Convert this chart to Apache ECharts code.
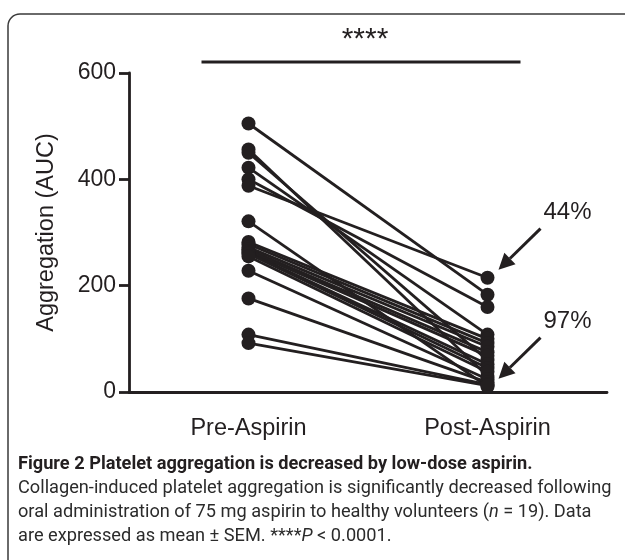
<!DOCTYPE html>
<html><head><meta charset="utf-8">
<script src="https://cdn.jsdelivr.net/npm/echarts@6/dist/echarts.min.js"></script>
<style>html,body{margin:0;padding:0;background:#fff}#c{width:625px;height:560px}</style>
</head><body><div id="c"></div>
<script>
var categories = ['Pre-Aspirin', 'Post-Aspirin'];
var preValues  = [505, 456, 450, 422, 400, 388, 321, 282, 278, 272, 268, 265, 262, 260, 255, 228, 176, 108, 92];
var postValues = [183, 30, 60, 108, 160, 215, 10, 100, 92, 85, 75, 68, 52, 45, 38, 24, 18, 14, 12];
var yTicks = [0, 200, 400, 600];
var annotations = [{label: '44%', value: 215}, {label: '97%', value: 10}];

var ink = '#231f20';
var axFont = 'Liberation Sans';
var chart = echarts.init(document.getElementById('c'), null, {renderer: 'canvas'});
var series = preValues.map(function (p, i) {
  return {
    type: 'line', data: [p, postValues[i]], symbol: 'circle', symbolSize: 14,
    lineStyle: {color: ink, width: 2.8}, itemStyle: {color: ink},
    silent: true, animation: false, z: 2
  };
});
chart.setOption({
  animation: false,
  grid: {left: 129, right: 18, top: 73, bottom: 168},
  xAxis: {
    type: 'category', data: categories, boundaryGap: true,
    axisLine: {lineStyle: {color: ink, width: 2.8}},
    axisTick: {alignWithLabel: true, length: 11, lineStyle: {color: ink, width: 2.8}},
    axisLabel: {color: ink, fontSize: 23.5, fontFamily: axFont, margin: 25}
  },
  yAxis: {
    type: 'value', min: yTicks[0], max: yTicks[yTicks.length - 1], interval: 200,
    name: 'Aggregation (AUC)', nameLocation: 'middle', nameGap: 70,
    nameTextStyle: {color: ink, fontSize: 23.5, fontFamily: axFont},
    axisLine: {show: true, lineStyle: {color: ink, width: 2.8}},
    axisTick: {show: true, length: 10, lineStyle: {color: ink, width: 2.8}},
    axisLabel: {color: ink, fontSize: 23, fontFamily: axFont, margin: 13},
    splitLine: {show: false}
  },
  series: series
});

var pPre = chart.convertToPixel({xAxisIndex: 0, yAxisIndex: 0}, [0, 0]);
var pPost = chart.convertToPixel({xAxisIndex: 0, yAxisIndex: 0}, [1, 0]);
var elements = [];
elements.push({type: 'rect', shape: {x: 8, y: 14, width: 640, height: 580, r: 12}, style: {fill: 'none', stroke: '#3a3a3a', lineWidth: 1.5}, z: 0});
var barY = 62;
elements.push({type: 'line', shape: {x1: pPre[0] - 47, y1: barY, x2: pPost[0] + 33, y2: barY}, style: {stroke: ink, lineWidth: 3}});
elements.push({type: 'text', style: {text: '****', x: (pPre[0] - 47 + pPost[0] + 33) / 2 + 4, y: 40, align: 'center', verticalAlign: 'middle', fontSize: 30, fontFamily: axFont, fill: ink}});
annotations.forEach(function (a) {
  var pt = chart.convertToPixel({xAxisIndex: 0, yAxisIndex: 0}, [1, a.value]);
  var tx = pt[0] + 11, ty = pt[1] - 8;
  var sx = tx + 42, sy = ty - 41;
  var ang = Math.atan2(ty - sy, tx - sx);
  var L = 16, W = 8;
  var bx = tx - L * Math.cos(ang), by = ty - L * Math.sin(ang);
  var nx = -Math.sin(ang), ny = Math.cos(ang);
  elements.push({type: 'line', shape: {x1: sx, y1: sy, x2: bx, y2: by}, style: {stroke: ink, lineWidth: 3}});
  elements.push({type: 'polygon', shape: {points: [[tx, ty], [bx + nx * W, by + ny * W], [bx - nx * W, by - ny * W]]}, style: {fill: ink}});
  elements.push({type: 'text', style: {text: a.label, x: sx + 27, y: sy - 16, align: 'center', verticalAlign: 'middle', fontSize: 24, fontFamily: axFont, fill: ink}});
});
var capFont = 'Roboto';
var fs = 18.2;
var capStyle = {fontSize: fs, fontFamily: capFont, fill: '#2b2b2b', rich: {
  b: {fontSize: fs, fontFamily: capFont, fontWeight: 'bold', fill: ink},
  i: {fontSize: fs, fontFamily: capFont, fontStyle: 'italic', fill: '#2b2b2b'}
}};
var capLines = [
  '{b|Figure 2 Platelet aggregation is decreased by low-dose aspirin.}',
  'Collagen-induced platelet aggregation is significantly decreased following',
  'oral administration of 75 mg aspirin to healthy volunteers ({i|n} = 19). Data',
  'are expressed as mean ± SEM. ****{i|P} < 0.0001.'
];
capLines.forEach(function (t, k) {
  elements.push({type: 'text', style: Object.assign({}, capStyle, {text: t, x: 18, y: 464 + k * 24, verticalAlign: 'middle'})});
});
chart.setOption({graphic: {elements: elements}});
</script></body></html>
